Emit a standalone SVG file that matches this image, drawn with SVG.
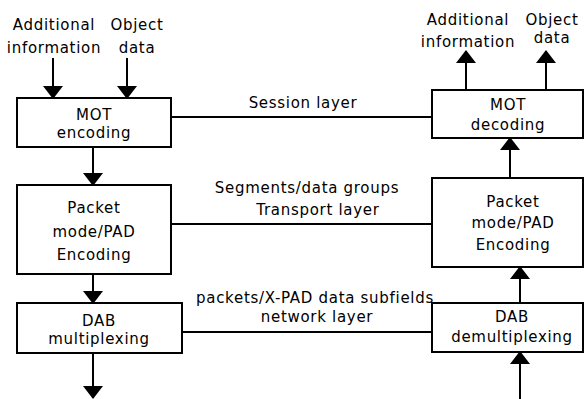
<svg xmlns="http://www.w3.org/2000/svg" width="584" height="399" viewBox="0 0 584 399">
<defs>
<style>
.box{fill:#fff;stroke:#000;stroke-width:2}
.ln{fill:none;stroke:#000;stroke-width:2}
.ar{fill:none;stroke:#000;stroke-width:2;marker-end:url(#ah)}
text{font-family:"DejaVu Sans","Liberation Sans",sans-serif;font-size:15px;letter-spacing:0.7px;fill:#000;text-anchor:middle}
</style>
<marker id="ah" viewBox="0 0 13 20" refX="12" refY="10" markerWidth="13" markerHeight="20" orient="auto" markerUnits="userSpaceOnUse">
<path d="M0,0 L13,10 L0,20 z" fill="#000"/>
</marker>
</defs>
<rect width="584" height="399" fill="#fff"/>
<g id="labels-in">
<text x="54" y="30">Additional</text>
<text x="54" y="53">information</text>
<text x="137" y="30">Object</text>
<text x="137" y="53">data</text>
</g>
<g id="labels-out">
<text x="468" y="25">Additional</text>
<text x="468" y="47">information</text>
<text x="552" y="25">Object</text>
<text x="552" y="43">data</text>
</g>
<g id="connectors">
<line class="ar" x1="53" y1="58" x2="53" y2="98"/>
<line class="ar" x1="127" y1="58" x2="127" y2="98"/>
<line class="ar" x1="93" y1="147" x2="93" y2="185"/>
<line class="ar" x1="93" y1="274" x2="93" y2="303"/>
<line class="ar" x1="93" y1="353" x2="93" y2="398"/>
<line class="ar" x1="466" y1="90" x2="466" y2="51"/>
<line class="ar" x1="546" y1="90" x2="546" y2="51"/>
<line class="ar" x1="510" y1="178" x2="510" y2="138"/>
<line class="ar" x1="520" y1="303" x2="520" y2="267"/>
<line class="ar" x1="520" y1="399" x2="520" y2="352"/>
<line class="ln" x1="171" y1="117" x2="432" y2="117"/>
<line class="ln" x1="171" y1="224" x2="432" y2="224"/>
<line class="ln" x1="182" y1="332" x2="432" y2="332"/>
<text x="303" y="108">Session layer</text>
<text x="307" y="193">Segments/data groups</text>
<text x="318" y="215">Transport layer</text>
<text x="315" y="303">packets/X-PAD data subfields</text>
<text x="317" y="322">network layer</text>
</g>
<g id="mot-encoding">
<rect class="box" x="17" y="98" width="154" height="49"/>
<text x="94" y="120">MOT</text>
<text x="94" y="138">encoding</text>
</g>
<g id="packet-encoding-left">
<rect class="box" x="17" y="185" width="154" height="89"/>
<text x="94" y="213">Packet</text>
<text x="94" y="237">mode/PAD</text>
<text x="94" y="260">Encoding</text>
</g>
<g id="dab-multiplexing">
<rect class="box" x="17" y="303" width="165" height="50"/>
<text x="99" y="326">DAB</text>
<text x="99" y="344">multiplexing</text>
</g>
<g id="mot-decoding">
<rect class="box" x="432" y="90" width="151" height="48"/>
<text x="508" y="110">MOT</text>
<text x="508" y="130">decoding</text>
</g>
<g id="packet-encoding-right">
<rect class="box" x="432" y="178" width="151" height="89"/>
<text x="513" y="207">Packet</text>
<text x="513" y="228">mode/PAD</text>
<text x="513" y="250">Encoding</text>
</g>
<g id="dab-demultiplexing">
<rect class="box" x="432" y="303" width="151" height="49"/>
<text x="512" y="322">DAB</text>
<text x="512" y="342">demultiplexing</text>
</g>
</svg>
